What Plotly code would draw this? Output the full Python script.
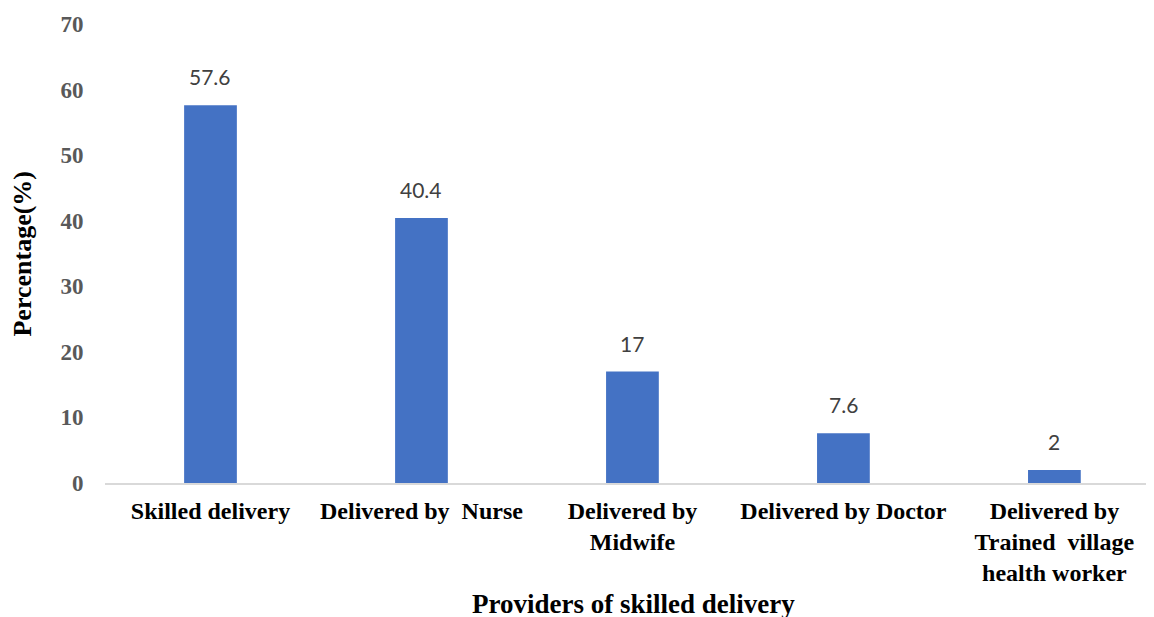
import plotly.graph_objects as go

categories = ["Skilled delivery", "Delivered by  Nurse", "Delivered by<br>Midwife",
              "Delivered by Doctor", "Delivered by<br>Trained  village<br>health worker"]
values = [57.6, 40.4, 17, 7.6, 2]
value_labels = ["57.6", "40.4", "17", "7.6", "2"]
y_ticks = [0, 10, 20, 30, 40, 50, 60, 70]

fig = go.Figure()
fig.add_trace(go.Bar(
    x=categories, y=values, width=0.25,
    marker=dict(color="#4472C4", line=dict(width=0)),
    hoverinfo="skip",
))
for c, v, t in zip(categories, values, value_labels):
    fig.add_annotation(x=c, y=v, text=t, showarrow=False, yanchor="bottom", yshift=14,
                       font=dict(family="Lato, Open Sans, sans-serif", size=21, color="#404040"))

serif = "Liberation Serif, Times New Roman, serif"
fig.add_annotation(xref="paper", yref="paper", x=0.5, y=-0.2636, yanchor="middle",
                   text="<b>Providers of skilled delivery</b>", showarrow=False,
                   font=dict(family=serif, size=27, color="black"))
fig.add_annotation(xref="paper", yref="paper", x=-0.0785, y=0.5, xanchor="center",
                   yanchor="middle", textangle=-90,
                   text="<b>Percentage(%)</b>", showarrow=False,
                   font=dict(family=serif, size=26, color="black"))

fig.update_layout(
    width=1154, height=617,
    margin=dict(l=97, r=0, t=16, b=142),
    paper_bgcolor="white", plot_bgcolor="white",
    showlegend=False,
    xaxis=dict(
        range=[-0.5, 4.51], automargin=False,
        showline=True, linecolor="#D9D9D9", linewidth=2,
        showgrid=False, zeroline=False,
        ticks="outside", ticklen=5, tickcolor="rgba(0,0,0,0)",
        tickfont=dict(family=serif, size=24, color="black"),
        tickangle=0,
        tickvals=categories, ticktext=["<b>" + c + "</b>" for c in categories],
    ),
    yaxis=dict(
        range=[0, 70], tickvals=y_ticks, automargin=False,
        ticktext=["<b>%d</b>" % v for v in y_ticks],
        showline=False, showgrid=False, zeroline=False,
        ticks="outside", ticklen=16, tickcolor="rgba(0,0,0,0)",
        tickfont=dict(family=serif, size=23, color="#595959"),
    ),
    font=dict(family=serif),
)
fig.write_html("out.html")
